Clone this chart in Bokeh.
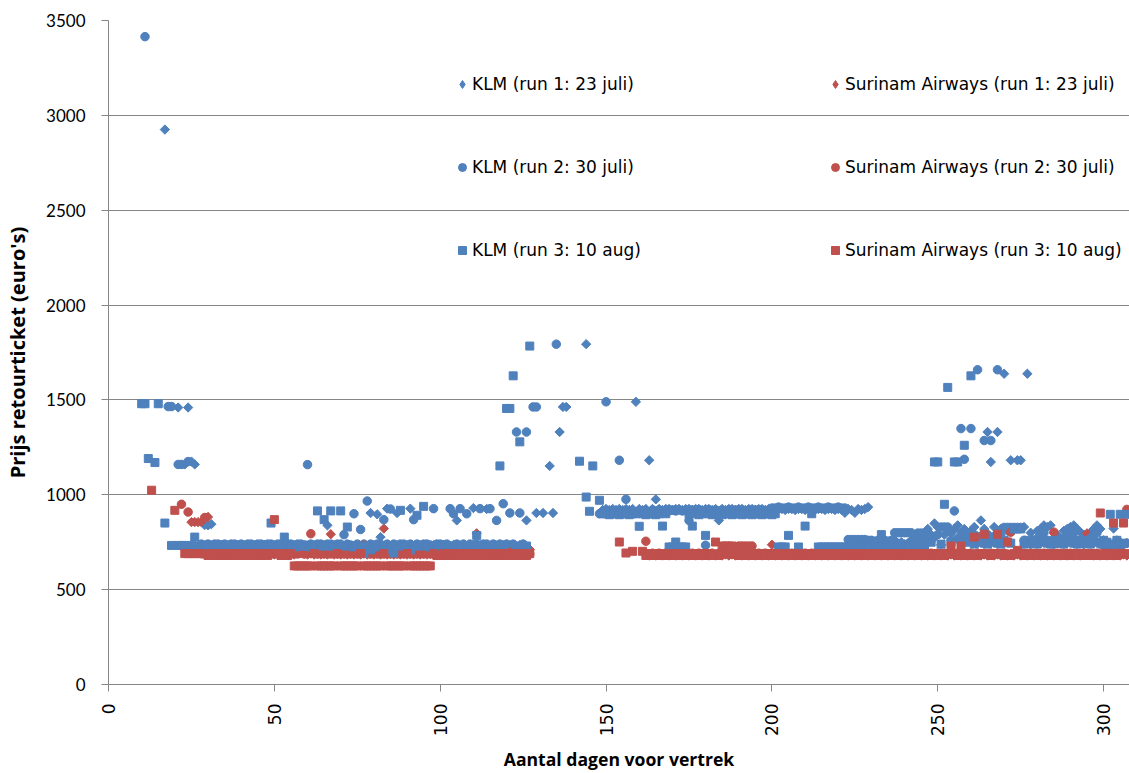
import math
from bokeh.plotting import figure
from bokeh.models import Range1d, Legend, LegendItem, FixedTicker, ColumnDataSource
from bokeh.embed import file_html
from bokeh.resources import INLINE

N = None
FIRST_DAY = 10  # prices below are listed day by day, starting at day 10

X_TICKS = [0, 50, 100, 150, 200, 250, 300]
Y_TICKS = [0, 500, 1000, 1500, 2000, 2500, 3000, 3500]

LABELS = {
    "k1": "KLM (run 1: 23 juli)",
    "k2": "KLM (run 2: 30 juli)",
    "k3": "KLM (run 3: 10 aug)",
    "s1": "Surinam Airways (run 1: 23 juli)",
    "s2": "Surinam Airways (run 2: 30 juli)",
    "s3": "Surinam Airways (run 3: 10 aug)",
}

KLM_RUN1 = [
    N, N, N, N, N, N, N, 2925, N, N,                          # 10
    N, 1460, N, 1160, 1460, 1175, 1160, N, N, 840,            # 20
    839, 845, 735, 730, 730, 725, 730, 735, 730, 725,         # 30
    730, 730, 735, 730, 725, 730, 730, 735, 730, 730,         # 40
    725, 730, 735, 730, 730, 725, 730, 735, 730, 725,         # 50
    730, 735, 730, 730, 725, 730, 839, 730, 725, 730,         # 60
    735, 730, 730, 725, 730, 735, 730, 725, 730, 904,         # 70
    730, 897, 777, 730, 927, 730, 730, 904, 730, 735,         # 80
    730, 927, 730, 735, 730, 730, 725, 730, 735, 730,         # 90
    730, 735, 730, 730, 735, 865, 730, 735, 730, 725,         # 100
    930, 730, 735, 730, 925, 730, 735, 730, 730, 735,         # 110
    730, 735, 730, 730, 735, 730, 865, N, N, 904,             # 120
    N, 904, N, 1152, 904, N, 1331, 1463, 1463, N,             # 130
    N, N, N, N, 1794, N, N, N, N, 920,                        # 140
    925, 920, 925, 920, 925, 920, 925, 920, 925, 1490,        # 150
    925, 920, 925, 1182, 925, 976, 925, 920, 925, 925,        # 160
    920, 925, 925, 920, 925, 925, 920, 925, 925, 920,         # 170
    925, 925, 920, 925, 865, 925, 920, 925, 925, 920,         # 180
    925, 925, 920, 925, 925, 920, 925, 925, 920, 925,         # 190
    925, 920, 925, 925, 920, 925, 925, 920, 925, 925,         # 200
    920, 925, 925, 920, 925, 925, 920, 925, 925, 920,         # 210
    925, 920, 905, 925, 920, 905, 925, 920, 925, 935,         # 220
    745, 735, 740, 760, 745, 750, 740, 760, 745, 750,         # 230
    740, 745, 760, 790, 750, 770, 760, 820, 790, 849,         # 240
    830, 737, 790, 810, 797, 820, 839, 800, 820, 792,         # 250
    810, 830, 780, 865, 820, 1331, 1173, 830, 1331, 820,      # 260
    1638, 810, 1182, 820, 1182, 1182, 830, 1638, 800, 760,    # 270
    810, 820, 839, 830, 839, 800, 790, 760, 810, 820,         # 280
    830, 839, 820, 803, 790, 770, 800, 820, 839, 820,         # 290
    760, 750, 740, 822, 760, 750, 740, 745,                   # 300
]

KLM_RUN2 = [
    N, 3415, N, N, N, N, N, N, 1465, 1465,                    # 10
    N, 1160, 1160, N, 1175, N, N, N, 740, 735,                # 20
    740, 735, 740, 740, 735, 740, 735, 740, 740, 735,         # 30
    740, 735, 740, 740, 735, 740, 740, 735, 740, 740,         # 40
    735, 740, 740, 735, 740, 740, 735, 740, 740, 735,         # 50
    1159, 740, 735, 740, 740, 735, 740, 740, 735, 740,        # 60
    740, 790, 740, 735, 900, 740, 817, 740, 967, 740,         # 70
    735, 740, 740, 869, 740, 925, 740, 735, 740, 740,         # 80
    735, 740, 869, 740, 735, 740, 740, 735, 927, 740,         # 90
    740, 735, 740, 927, 900, 740, 927, 740, 900, 740,         # 100
    735, 740, 927, 740, 740, 927, 740, 865, 740, 953,         # 110
    740, 904, 740, 1331, 904, 740, 1331, N, 1463, 1463,       # 120
    N, N, N, N, N, 1794, N, N, N, N,                          # 130
    N, N, N, N, N, N, N, N, 900, 905,                         # 140
    1490, 910, 905, 910, 1182, 905, 976, 910, 905, 910,       # 150
    905, 910, 915, 910, 920, 915, 920, 915, 920, 915,         # 160
    920, 915, 920, 915, 920, 865, 920, 915, 920, 915,         # 170
    734, 920, 915, 920, 915, 920, 915, 920, 915, 920,         # 180
    915, 920, 915, 920, 915, 920, 915, 920, 915, 920,         # 190
    930, 930, 935, 930, 930, 935, 930, 930, 935, 930,         # 200
    930, 935, 930, 930, 935, 930, 930, 935, 930, 930,         # 210
    935, 930, 930, 764, 764, 764, 764, 764, 764, 760,         # 220
    760, 755, 760, 765, 760, 755, 760, 800, 800, 800,         # 230
    800, 800, 800, 770, 798, 798, 798, 798, 760, 780,         # 240
    790, 830, 830, 830, 760, 915, 770, 1349, 1187, 780,       # 250
    1349, 790, 1659, 780, 1286, 790, 1286, 780, 1659, 790,    # 260
    828, 828, 828, 828, 828, 828, 760, 750, 740, 760,         # 270
    770, 790, 800, 760, 750, 740, 745, 760, 770, 780,         # 280
    790, 800, 760, 745, 740, 760, 770, 790, 800, 740,         # 290
    733, 735, 733, 735, 733, 735, 740, 745,                   # 300
]

KLM_RUN3 = [
    1480, 1480, 1191, N, 1170, 1480, N, 851, N, 733,          # 10
    N, 733, 733, 733, N, 733, 777, 730, 725, 730,             # 20
    730, 725, 730, 735, 730, 725, 730, 730, 735, 730,         # 30
    725, 730, 730, 735, 730, 725, 730, 730, 735, 851,         # 40
    730, 725, 730, 777, 730, 730, 725, 730, 730, 735,         # 50
    730, 725, 730, 915, 730, 869, 730, 915, 730, 725,         # 60
    915, 730, 830, 730, 725, 730, 730, 690, 730, 710,         # 70
    730, 725, 730, 730, 710, 730, 693, 730, 918, 730,         # 80
    730, 710, 730, 892, 730, 939, 730, 725, 730, 730,         # 90
    735, 730, 725, 730, 730, 735, 730, 725, 730, 730,         # 100
    735, 786, 730, 725, 730, 730, 735, 730, 1152, 730,        # 110
    1455, 1455, 1627, 730, 1279, 725, 730, 1784, N, N,        # 120
    N, N, N, N, N, N, N, N, N, N,                             # 130
    N, N, 1177, N, 988, 913, 1152, N, 971, 900,               # 140
    900, 895, 900, 900, 895, 900, 900, 895, 900, 900,         # 150
    834, 900, 895, 900, 900, 895, 900, 835, 900, 725,         # 160
    725, 751, 725, 725, 725, 900, 835, 900, 895, 900,         # 170
    786, 900, 895, 900, 900, 895, 900, 900, 895, 900,         # 180
    900, 895, 900, 900, 895, 900, 900, 895, 900, 900,         # 190
    895, 900, 725, 725, 725, 786, N, N, 725, N,               # 200
    835, N, 900, N, 725, 725, 725, 725, 725, 725,             # 210
    725, 725, 725, 725, 725, 725, 725, 725, 725, 725,         # 220
    725, 725, 725, 790, 725, 725, 725, 725, 725, 725,         # 230
    725, 725, 725, 725, 725, 725, 725, 760, 750, 1173,        # 240
    1173, 740, 950, 1566, 750, 1173, 1173, 760, 1261, 750,    # 250
    1627, 740, 760, 750, 745, 740, 760, 750, 745, 740,        # 260
    760, 750, 745, 820, 820, 820, 740, 760, 750, 745,         # 270
    740, 760, 750, 745, 740, 760, 750, 745, 740, 760,         # 280
    750, 745, 740, 760, 750, 745, 740, 760, 750, 745,         # 290
    760, 750, 897, 740, 760, 897, 745, 897,                   # 300
]

SA_RUN1 = [
    N, N, N, N, N, N, N, N, N, N,                             # 10
    N, N, N, N, N, 856, 856, 856, 856, N,                     # 20
    883, 690, 685, 690, 685, 690, 685, 690, 685, 690,         # 30
    685, 690, 685, 690, 685, 690, 685, 690, 685, 690,         # 40
    685, 690, 685, 690, 685, 690, 685, 693, 693, 690,         # 50
    685, 690, 685, 690, 685, 690, 685, 792, 685, 690,         # 60
    685, 690, 685, 690, 685, 690, 685, 690, 685, 690,         # 70
    685, 690, 685, 822, 685, 690, 685, 690, 685, 690,         # 80
    685, 690, 685, 690, 685, 690, 685, 690, 685, 690,         # 90
    685, 690, 685, 690, 685, 690, 685, 690, 685, 690,         # 100
    685, 797, 690, 685, 690, 685, 690, 685, 710, 712,         # 110
    710, 712, 710, 712, 710, 712, 710, 712, N, N,             # 120
    N, N, N, N, N, N, N, N, N, N,                             # 130
    N, N, N, N, N, N, N, N, N, N,                             # 140
    N, N, N, N, N, N, N, N, N, N,                             # 150
    N, N, N, 680, 685, 680, 685, 680, 685, 680,               # 160
    685, 680, 685, 680, 685, 680, 685, 680, 685, 680,         # 170
    685, 680, 685, 680, 685, 680, 685, 680, 685, 680,         # 180
    685, 680, 685, 680, 685, 680, 685, 680, 685, 680,         # 190
    737, 680, 685, 680, 685, 680, 685, 680, 685, 680,         # 200
    685, 680, 685, 680, 685, 680, 685, 680, 685, 680,         # 210
    685, 680, 685, 680, 685, 680, 685, 680, 685, 680,         # 220
    685, 680, 685, 680, 685, 680, 685, 680, 685, 680,         # 230
    685, 680, 685, 680, 685, 680, 685, 680, 685, 680,         # 240
    685, 680, 685, 680, 685, 680, 685, 680, 685, 680,         # 250
    685, 680, 685, 680, 685, 680, 685, 680, 685, 680,         # 260
    685, 680, 685, 680, 685, 680, 685, 680, 685, 680,         # 270
    685, 680, 685, 680, 685, 680, 685, 680, 685, 680,         # 280
    685, 680, 685, 680, 685, 797, 685, 680, 685, 680,         # 290
    685, 680, 685, 680, 685, 680, 685, 680,                   # 300
]

SA_RUN2 = [
    N, N, N, N, N, N, N, N, N, N,                             # 10
    N, N, 950, N, 909, N, N, N, N, 880,                       # 20
    692, 688, 692, 688, 692, 688, 692, 688, 692, 688,         # 30
    692, 688, 692, 688, 692, 688, 692, 688, 692, 688,         # 40
    692, 688, 692, 688, 692, 688, 692, 688, 692, 688,         # 50
    692, 795, 692, 688, 692, 688, 692, 688, 692, 688,         # 60
    692, 688, 692, 688, 692, 688, 692, 734, 692, 688,         # 70
    692, 688, 692, 688, 692, 688, 692, 688, 692, 688,         # 80
    692, 688, 692, 688, 692, 688, 692, 688, 692, 688,         # 90
    692, 688, 692, 688, 692, 688, 692, 688, 692, 688,         # 100
    692, 688, 692, 688, 692, 688, 692, 688, 692, 688,         # 110
    692, 688, 692, 688, 692, 688, 692, 688, N, N,             # 120
    N, N, N, N, N, N, N, N, N, N,                             # 130
    N, N, N, N, N, N, N, N, N, N,                             # 140
    N, N, N, N, N, N, N, N, N, N,                             # 150
    N, N, 755, 688, 692, 688, 692, 688, 692, 688,             # 160
    692, 688, 692, 688, 692, 688, 692, 688, 692, 688,         # 170
    692, 688, 692, 688, 692, 688, 692, 688, 692, 688,         # 180
    730, 730, 730, 730, 730, 688, 692, 688, 692, 688,         # 190
    692, 688, 692, 688, 692, 688, 692, 688, 692, 688,         # 200
    692, 688, 692, 688, 692, 688, 692, 688, 692, 688,         # 210
    692, 688, 692, 688, 692, 688, 692, 688, 692, 688,         # 220
    692, 688, 692, 688, 692, 688, 692, 688, 692, 688,         # 230
    692, 688, 692, 688, 692, 688, 692, 688, 692, 688,         # 240
    692, 688, 692, 688, 692, 688, 692, 688, 692, 688,         # 250
    692, 688, 692, 688, 692, 688, 692, 688, 692, 688,         # 260
    692, 688, 803, 688, 692, 688, 692, 688, 692, 688,         # 270
    692, 688, 692, 688, 692, 803, 692, 688, 692, 688,         # 280
    692, 688, 692, 688, 692, 688, 692, 688, 692, 688,         # 290
    692, 688, 692, 688, 692, 688, 692, 923,                   # 300
]

SA_RUN3 = [
    N, N, N, 1024, N, N, N, N, N, N,                          # 10
    918, N, N, 690, 690, 690, 690, 690, 690, 688,             # 20
    680, 690, 680, 690, 680, 690, 680, 690, 680, 690,         # 30
    680, 690, 680, 690, 680, 690, 680, 690, 680, 690,         # 40
    869, 690, 680, 690, 680, 690, 625, 625, 625, 625,         # 50
    625, 625, 690, 625, 625, 625, 625, 625, 625, 690,         # 60
    625, 625, 625, 625, 625, 625, 690, 625, 625, 625,         # 70
    625, 625, 625, 690, 625, 625, 625, 625, 625, 625,         # 80
    690, 625, 625, 625, 625, 625, 625, 625, 690, 680,         # 90
    680, 690, 680, 690, 680, 690, 680, 690, 680, 690,         # 100
    680, 690, 680, 690, 680, 690, 680, 690, 680, 690,         # 110
    680, 690, 680, 690, 680, 690, 680, 690, N, N,             # 120
    N, N, N, N, N, N, N, N, N, N,                             # 130
    N, N, N, N, N, N, N, N, N, N,                             # 140
    N, N, N, N, 751, N, 693, N, 702, N,                       # 150
    N, 702, 680, 690, 680, 690, 680, 690, 680, 690,           # 160
    680, 690, 680, 690, 680, 690, 680, 690, 680, 690,         # 170
    680, 690, 680, 751, 680, 730, 730, 730, 730, 690,         # 180
    680, 690, 680, 690, 680, 690, 680, 690, 680, 690,         # 190
    680, 690, 680, 690, 680, 690, 680, 690, 680, 690,         # 200
    680, 690, 680, 690, 680, 690, 680, 690, 680, 690,         # 210
    680, 690, 680, 690, 680, 690, 680, 690, 680, 690,         # 220
    680, 690, 680, 690, 680, 690, 680, 690, 680, 690,         # 230
    680, 690, 680, 690, 680, 690, 680, 690, 680, 690,         # 240
    680, 690, 680, 690, 730, 690, 680, 730, 680, 690,         # 250
    680, 777, 680, 690, 792, 690, 680, 690, 792, 690,         # 260
    680, 751, 680, 690, 707, 690, 680, 690, 680, 690,         # 270
    680, 690, 680, 690, 680, 690, 680, 690, 680, 690,         # 280
    680, 690, 680, 690, 680, 690, 680, 690, 680, 904,         # 290
    680, 690, 680, 851, 680, 690, 851, 690,                   # 300
]

BLUE = "#4F81BD"
RED = "#C0504D"
GRID = "#868686"


def points(prices):
    xs, ys = [], []
    for i, v in enumerate(prices):
        if v is not None:
            xs.append(FIRST_DAY + i)
            ys.append(v)
    return ColumnDataSource(dict(x=xs, y=ys))


p = figure(width=1129, height=773, x_range=Range1d(0, 307.8), y_range=Range1d(0, 3500),
           output_backend="svg", toolbar_location=None,
           min_border_left=108, min_border_right=0, min_border_top=20, min_border_bottom=89)
p.outline_line_color = None
p.background_fill_color = "white"
p.xgrid.grid_line_color = None
p.ygrid.grid_line_color = GRID
p.ygrid.grid_line_width = 1

p.xaxis.ticker = FixedTicker(ticks=X_TICKS)
p.yaxis.ticker = FixedTicker(ticks=Y_TICKS)
for ax in (p.xaxis[0], p.yaxis[0]):
    ax.axis_line_color = GRID
    ax.axis_line_width = 1
    ax.major_tick_line_color = GRID
    ax.major_tick_out = 7
    ax.major_tick_in = 0
    ax.minor_tick_line_color = None
    ax.major_label_text_color = "black"
    ax.axis_label_text_color = "black"
    ax.axis_label_text_font = "Open Sans"
    ax.axis_label_text_font_style = "bold"

p.yaxis.major_label_text_font = "Lato"
p.yaxis.major_label_text_font_size = "17px"
p.yaxis.major_label_standoff = 16
p.yaxis.axis_label = "Prijs retourticket (euro's)"
p.yaxis.axis_label_text_font_size = "20px"
p.yaxis.axis_label_standoff = 12

p.xaxis.major_label_text_font = "DejaVu Sans"
p.xaxis.major_label_text_font_size = "17px"
p.xaxis.major_label_orientation = math.pi / 2
p.xaxis.major_label_standoff = 12
p.xaxis.axis_label = "Aantal dagen voor vertrek"
p.xaxis.axis_label_text_font_size = "17.6px"
p.xaxis.axis_label_standoff = 8

diamond = dict(marker="square", angle=math.pi / 4, size=6.6)
circle = dict(marker="circle", size=8.5)
square = dict(marker="square", size=8)

src_k1 = points(KLM_RUN1)
src_s1 = points(SA_RUN1)
p.scatter("x", "y", source=src_k1, fill_color=BLUE, line_color=BLUE, **diamond)
p.scatter("x", "y", source=src_s1, fill_color=RED, line_color=RED, **diamond)
r_k2 = p.scatter("x", "y", source=points(KLM_RUN2), fill_color=BLUE, line_color=BLUE, **circle)
r_s2 = p.scatter("x", "y", source=points(SA_RUN2), fill_color=RED, line_color=RED, **circle)
r_k3 = p.scatter("x", "y", source=points(KLM_RUN3), fill_color=BLUE, line_color=BLUE, **square)
r_s3 = p.scatter("x", "y", source=points(SA_RUN3), fill_color=RED, line_color=RED, **square)

# hidden diamond renderers, used only for the legend markers (legend glyphs are drawn unrotated)
lk1 = p.scatter("x", "y", source=src_k1, marker="diamond", fill_color=BLUE, line_color=BLUE, visible=False)
ls1 = p.scatter("x", "y", source=src_s1, marker="diamond", fill_color=RED, line_color=RED, visible=False)

legend_style = dict(orientation="vertical", spacing=63, padding=0, margin=0,
                    glyph_width=20, glyph_height=20, label_height=20, label_standoff=0,
                    label_text_font="DejaVu Sans", label_text_font_size="17px",
                    label_text_color="black", inactive_fill_alpha=0,
                    border_line_color=None, background_fill_alpha=0, click_policy="none")

leg1 = Legend(items=[LegendItem(label=LABELS["k1"], renderers=[lk1]),
                     LegendItem(label=LABELS["k2"], renderers=[r_k2]),
                     LegendItem(label=LABELS["k3"], renderers=[r_k3])],
              location=(344, 424), **legend_style)
leg2 = Legend(items=[LegendItem(label=LABELS["s1"], renderers=[ls1]),
                     LegendItem(label=LABELS["s2"], renderers=[r_s2]),
                     LegendItem(label=LABELS["s3"], renderers=[r_s3])],
              location=(717, 424), **legend_style)
p.add_layout(leg1, "center")
p.add_layout(leg2, "center")

open("out.html", "w").write(file_html(p, INLINE))
